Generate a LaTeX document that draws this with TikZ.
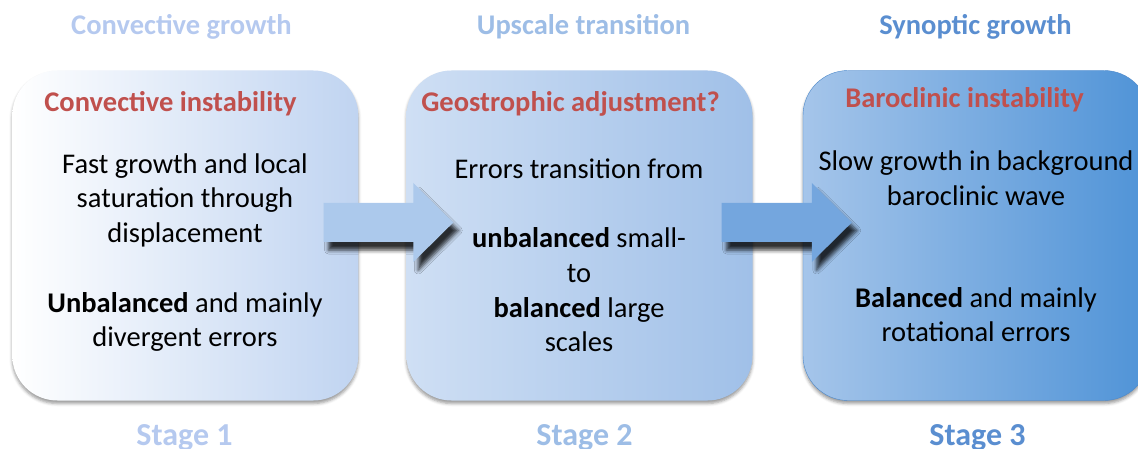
\documentclass[tikz,border=0pt]{standalone}
\usepackage{fontspec}
\setmainfont{Carlito}
\usetikzlibrary{calc,shadows.blur}
\definecolor{convblue}{HTML}{B5C9EF}
\definecolor{upscblue}{HTML}{9DBDE6}
\definecolor{synoblue}{HTML}{5A8ED0}
\definecolor{headred}{HTML}{C0504D}
\definecolor{convright}{HTML}{C0D4F1}
\definecolor{upscleft}{HTML}{CFDFF4}
\definecolor{upscright}{HTML}{A0C0E8}
\definecolor{synoleft}{HTML}{A5C5EA}
\definecolor{synoright}{HTML}{4F93D7}
\definecolor{synoedge}{HTML}{4D89CB}
\definecolor{arrowone}{HTML}{ACC9EC}
\definecolor{arrowtwo}{HTML}{74A6DE}
\begin{document}
\begin{tikzpicture}[x=1pt,y=-1pt,
    stagebox/.style={rectangle,rounded corners=45pt,minimum width=346pt,minimum height=330pt,inner sep=0pt,
      blur shadow={shadow xshift=0pt,shadow yshift=-3pt,shadow opacity=40,shadow blur radius=3pt}},
    title/.style={font=\fontsize{28.5}{34}\selectfont\bfseries,anchor=base},
    stagelabel/.style={font=\fontsize{32}{38}\selectfont\bfseries,anchor=base},
    heading/.style={font=\fontsize{28.5}{34}\selectfont\bfseries,text=headred,anchor=base},
    body/.style={font=\fontsize{28.5}{34.6}\selectfont,align=center,anchor=base},
    blockarrow/.style={blur shadow={shadow xshift=5pt,shadow yshift=-8pt,shadow opacity=80,shadow blur radius=4pt}}]
  \clip (0,0) rectangle (1138,449);
  % the three stages
  \node[stagebox,left color=white,right color=convright] (conv) at (185.3,235.5) {};
  \node[stagebox,left color=upscleft,right color=upscright] (upsc) at (579.5,235.5) {};
  \node[stagebox,left color=synoleft,right color=synoright,draw=synoedge,thin] (syno) at (976,235.5) {};

  % arrows between stages
  \coordinate (s1) at ($(conv.east)+(-35,-13)$);
  \coordinate (t1) at ($(upsc.west)+(47,-13)$);
  \coordinate (s2) at ($(upsc.east)+(-31,-13)$);
  \coordinate (t2) at ($(syno.west)+(49,-13)$);
  \path[blockarrow,fill=arrowone]
    ($(s1)+(0,-19.5)$) -- ($(t1)+(-40,-19.5)$) -- ($(t1)+(-40,-39.5)$) -- (t1)
    -- ($(t1)+(-40,39.5)$) -- ($(t1)+(-40,19.5)$) -- ($(s1)+(0,19.5)$) -- cycle;
  \path[blockarrow,fill=arrowtwo]
    ($(s2)+(0,-19.5)$) -- ($(t2)+(-40,-19.5)$) -- ($(t2)+(-40,-39.5)$) -- (t2)
    -- ($(t2)+(-40,39.5)$) -- ($(t2)+(-40,19.5)$) -- ($(s2)+(0,19.5)$) -- cycle;

  % labels
  \node[title,text=convblue] (convtitle) at (181.5,35) {Convective growth};
  \node[title,text=upscblue] (upsctitle) at (583.5,35) {Upscale transition};
  \node[title,text=synoblue] (synotitle) at (975.5,35) {Synoptic growth};
  \node[stagelabel,text=convblue] (convstage) at (184.5,445) {Stage 1};
  \node[stagelabel,text=upscblue] (upscstage) at (584.5,445) {Stage 2};
  \node[stagelabel,text=synoblue] (synostage) at (977.5,445) {Stage 3};

  \node[heading] (convhead) at (170.5,112) {Convective instability};
  \node[heading] (upschead) at (570.5,112) {Geostrophic adjustment?};
  \node[heading] (synohead) at (964.5,108) {Baroclinic instability};

  \node[body] (convtext) at (185,346.7) {Fast growth and local\\saturation through\\displacement\\[35pt]\textbf{Unbalanced} and mainly\\divergent errors};
  \node[body] (upsctext) at (579,351.7) {Errors transition from\\[35pt]\textbf{unbalanced} small-\\to\\\textbf{balanced} large\\scales};
  \node[body] (synotext) at (976,341.7) {Slow growth in background\\baroclinic wave\\[67pt]\textbf{Balanced} and mainly\\rotational errors};
\end{tikzpicture}
\end{document}
